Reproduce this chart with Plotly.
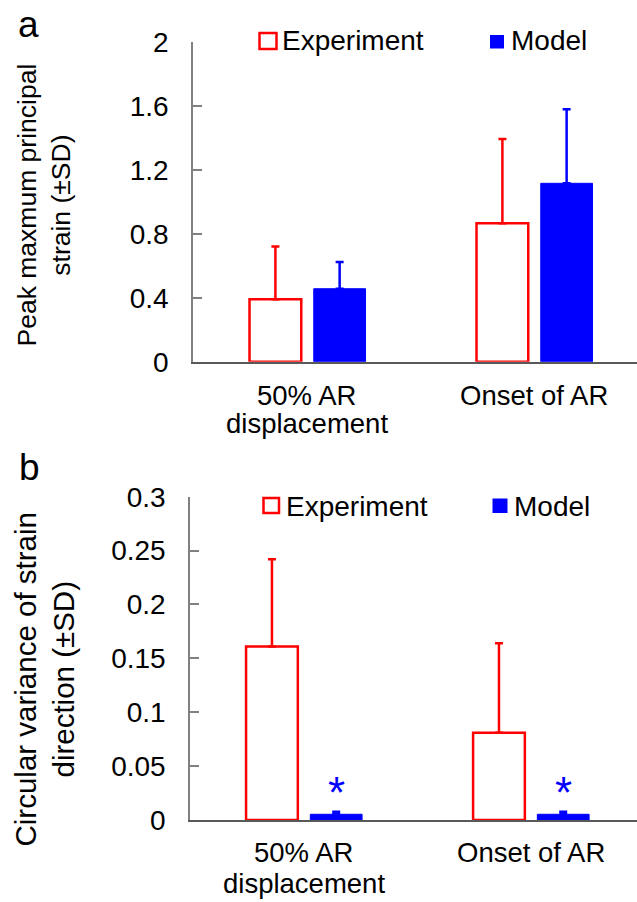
import plotly.graph_objects as go

# ---------------- data ----------------
categories = ["50% AR<br>displacement", "Onset of AR"]
cat_pos = [0, 1]
series_names = ["Experiment", "Model"]

# panel a: peak maximum principal strain
strain_exp = [0.39, 0.865]
strain_exp_sd = [0.33, 0.527]
strain_model = [0.456, 1.115]
strain_model_sd = [0.167, 0.463]

# panel b: circular variance of strain direction
cv_exp = [0.161, 0.081]
cv_exp_sd = [0.081, 0.083]
cv_model = [0.0053, 0.0053]
cv_model_sd = [0.0024, 0.0024]
sig_marks = ["*", "*"]

a_ticks = [0, 0.4, 0.8, 1.2, 1.6, 2]
a_ticktext = ["0", "0.4", "0.8", "1.2", "1.6", "2"]
b_ticks = [0, 0.05, 0.1, 0.15, 0.2, 0.25, 0.3]
b_ticktext = ["0", "0.05", "0.1", "0.15", "0.2", "0.25", "0.3"]

# ---------------- style ----------------
RED = "#ff0000"
BLUE = "#0000ff"
FONT = "Liberation Sans, Arial, sans-serif"
W, H = 637, 902
BAR_W = 0.228
EXP_OFF = -0.253
MOD_OFF = 0.03
FS = 28

fig = go.Figure()


def add_pair(exp, exp_sd, mod, mod_sd, xa, ya):
    fig.add_trace(go.Bar(
        x=cat_pos, y=exp, name=series_names[0], xaxis=xa, yaxis=ya,
        width=BAR_W, offset=EXP_OFF,
        marker=dict(color="white", line=dict(color=RED, width=2.5)),
        error_y=dict(type="data", array=exp_sd, arrayminus=[0] * len(exp_sd),
                     symmetric=False, color=RED, thickness=2.5, width=4),
        showlegend=False,
    ))
    fig.add_trace(go.Bar(
        x=cat_pos, y=mod, name=series_names[1], xaxis=xa, yaxis=ya,
        width=BAR_W, offset=MOD_OFF,
        marker=dict(color=BLUE, line=dict(color=BLUE, width=1)),
        error_y=dict(type="data", array=mod_sd, arrayminus=[0] * len(mod_sd),
                     symmetric=False, color=BLUE, thickness=2.5, width=4),
        showlegend=False,
    ))


add_pair(strain_exp, strain_exp_sd, strain_model, strain_model_sd, "x", "y")
add_pair(cv_exp, cv_exp_sd, cv_model, cv_model_sd, "x2", "y2")

# significance asterisks above model bars in panel b
for xp, ym, sd, s in zip(cat_pos, cv_model, cv_model_sd, sig_marks):
    fig.add_annotation(x=xp + MOD_OFF + BAR_W / 2, y=ym + sd, xref="x2", yref="y2",
                       text=s, showarrow=False, xanchor="center", yanchor="middle",
                       yshift=19, font=dict(size=44, color=BLUE, family=FONT))

tickfont = dict(size=FS, color="black", family=FONT)


def xaxis_style(domain, rng):
    return dict(domain=domain, range=rng, tickvals=cat_pos, showticklabels=False,
                showline=True, linecolor="#595959", linewidth=1.5, ticks="",
                showgrid=False, zeroline=False, automargin=False, fixedrange=True)


def yaxis_style(domain, rng, tv, tt, anchor):
    return dict(domain=domain, range=rng, tickvals=tv, ticktext=tt, anchor=anchor,
                showline=True, linecolor="#808080", linewidth=1.5,
                ticks="inside", ticklen=9, tickcolor="#808080", tickwidth=1.5,
                showgrid=False, zeroline=False, tickfont=tickfont, automargin=False,
                ticklabelstandoff=17, fixedrange=True)


fig.update_layout(
    width=W, height=H, autosize=False,
    margin=dict(l=0, r=0, t=0, b=0, pad=0, autoexpand=False),
    paper_bgcolor="white", plot_bgcolor="white",
    barmode="overlay",
    showlegend=False,
    font=dict(family=FONT, color="black"),
    xaxis=dict(xaxis_style([193 / W, 1.0], [-0.502, 1.454]), anchor="y"),
    yaxis=yaxis_style([1 - 361.7 / H, 1 - 41.7 / H], [0, 2], a_ticks, a_ticktext, "x"),
    xaxis2=dict(xaxis_style([190 / W, 1.0], [-0.5, 1.469]), anchor="y2"),
    yaxis2=yaxis_style([1 - 820 / H, 1 - 496.7 / H], [0, 0.3], b_ticks, b_ticktext, "x2"),
)


def px(x, y):
    return x / W, 1 - y / H


# category labels under each panel (tight two-line spacing)
for xref, axis_y, first_off, gap in [("x", 361.7, 34, 28), ("x2", 820, 32, 31)]:
    for xp, cat in zip(cat_pos, categories):
        for i, line in enumerate(cat.split("<br>")):
            fig.add_annotation(text=line, x=xp, xref=xref, y=1 - (axis_y + first_off + gap * i) / H,
                               yref="paper", xanchor="center", yanchor="middle", showarrow=False,
                               font=dict(size=27.5, family=FONT, color="black"))


# legend keys (swatch + label, one row per panel)
def legend_row(y_mid, exp_box, mod_box, exp_text_x, mod_text_x):
    x0, y0 = px(exp_box[0], exp_box[1])
    x1, y1 = px(exp_box[2], exp_box[3])
    fig.add_shape(type="rect", xref="paper", yref="paper", x0=x0, x1=x1, y0=y0, y1=y1,
                  line=dict(color=RED, width=2.5), fillcolor="white")
    x0, y0 = px(mod_box[0], mod_box[1])
    x1, y1 = px(mod_box[2], mod_box[3])
    fig.add_shape(type="rect", xref="paper", yref="paper", x0=x0, x1=x1, y0=y0, y1=y1,
                  line=dict(color=BLUE, width=0), fillcolor=BLUE)
    for name, tx in zip(series_names, [exp_text_x, mod_text_x]):
        ax, ay = px(tx, y_mid)
        fig.add_annotation(text=name, x=ax, y=ay, xref="paper", yref="paper",
                           xanchor="left", yanchor="middle", showarrow=False,
                           font=dict(size=FS, family=FONT, color="black"))


legend_row(41, (259.5, 33, 276.5, 49), (490, 35, 504, 48.5), 280, 509)
legend_row(506, (263.5, 498, 279, 513), (492.5, 498.5, 507.5, 513), 284, 512)

# panel letters
for letter, (lx, ly) in zip(["a", "b"], [(28, 24), (29, 468)]):
    ax, ay = px(lx, ly)
    fig.add_annotation(text=letter, x=ax, y=ay, xref="paper", yref="paper",
                       xanchor="center", yanchor="middle", showarrow=False,
                       font=dict(size=37, family=FONT))

# y-axis titles
ax, ay = px(43.5, 205)
fig.add_annotation(text="Peak maxmum principal<br>strain (±SD)", textangle=-90,
                   x=ax, y=ay, xref="paper", yref="paper", xanchor="center", yanchor="middle",
                   showarrow=False, align="center", font=dict(size=26.5, family=FONT))
ax, ay = px(43.5, 680)
fig.add_annotation(text="Circular variance of strain<br>direction (±SD)", textangle=-90,
                   x=ax, y=ay, xref="paper", yref="paper", xanchor="center", yanchor="middle",
                   showarrow=False, align="center", font=dict(size=29.5, family=FONT))

fig.write_html("out.html")
